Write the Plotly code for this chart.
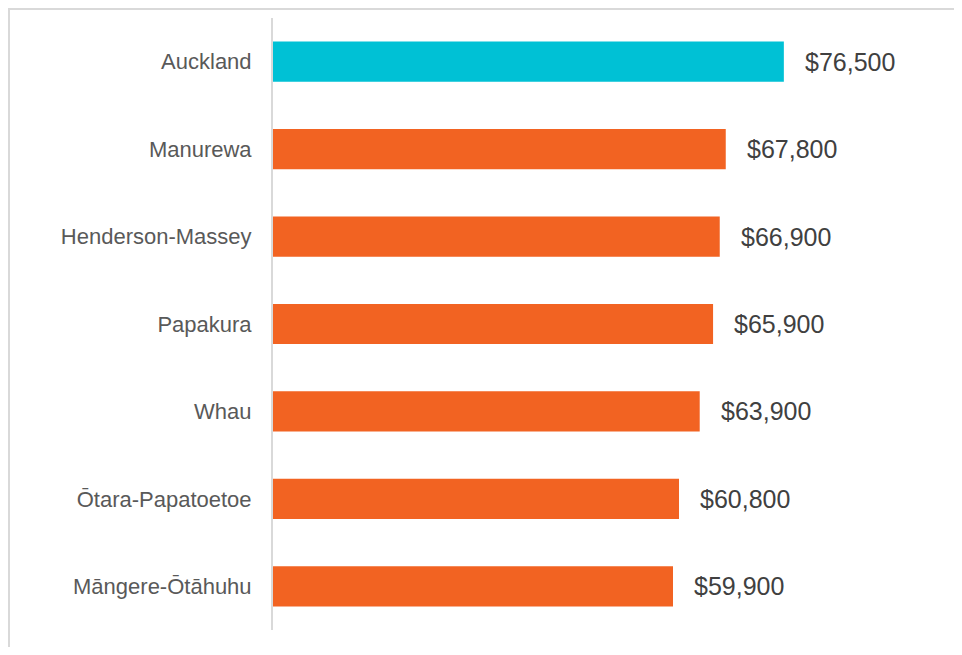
import plotly.graph_objects as go

categories = ["Auckland", "Manurewa", "Henderson-Massey", "Papakura", "Whau",
              "Ōtara-Papatoetoe", "Māngere-Ōtāhuhu"]
values = [76500, 67800, 66900, 65900, 63900, 60800, 59900]
bar_colors = ["#00C1D5", "#F26322", "#F26322", "#F26322", "#F26322", "#F26322", "#F26322"]
value_labels = ["$76,500", "$67,800", "$66,900", "$65,900", "$63,900", "$60,800", "$59,900"]

# page body has an 8px margin on every side; keep figure inside the window
W, H = 946, 639
ml, mt = 265, 10
plot_right, plot_bottom = 866, 622
mr, mb = W - plot_right, H - plot_bottom
pw = W - ml - mr
ph = H - mt - mb

FONT = "Liberation Sans, Arial"

fig = go.Figure()
fig.add_trace(go.Bar(
    x=values, y=categories, orientation="h",
    marker=dict(color=bar_colors, line=dict(width=0)),
    hoverinfo="skip",
))

for v, c, t in zip(values, categories, value_labels):
    fig.add_annotation(x=v, y=c, text=t, showarrow=False, xanchor="left",
                       xshift=19, font=dict(family=FONT, size=25, color="#404040"))

def px2x(px):
    return (px - ml) / pw

def py2y(py):
    return 1 - (py - mt) / ph

# outer frame: only top and left edges are visible in the reference
border = dict(color="#D9D9D9", width=2)
fig.add_shape(type="line", xref="paper", yref="paper",
              x0=px2x(0), x1=px2x(W), y0=py2y(1), y1=py2y(1), line=border, layer="below")
fig.add_shape(type="line", xref="paper", yref="paper",
              x0=px2x(1), x1=px2x(1), y0=py2y(0), y1=py2y(H), line=border, layer="below")

fig.update_layout(
    width=W, height=H,
    margin=dict(l=ml, r=mr, t=mt, b=mb),
    paper_bgcolor="white", plot_bgcolor="white",
    bargap=0.54,
    showlegend=False,
    font=dict(family=FONT, size=22, color="#595959"),
    xaxis=dict(range=[0, 90000], visible=False, fixedrange=True),
    yaxis=dict(autorange="reversed", showline=True, linecolor="#D9D9D9", linewidth=2,
               ticks="", showgrid=False, ticklabelstandoff=15,
               tickfont=dict(family=FONT, size=22, color="#595959"),
               fixedrange=True),
)

fig.write_html("out.html")
